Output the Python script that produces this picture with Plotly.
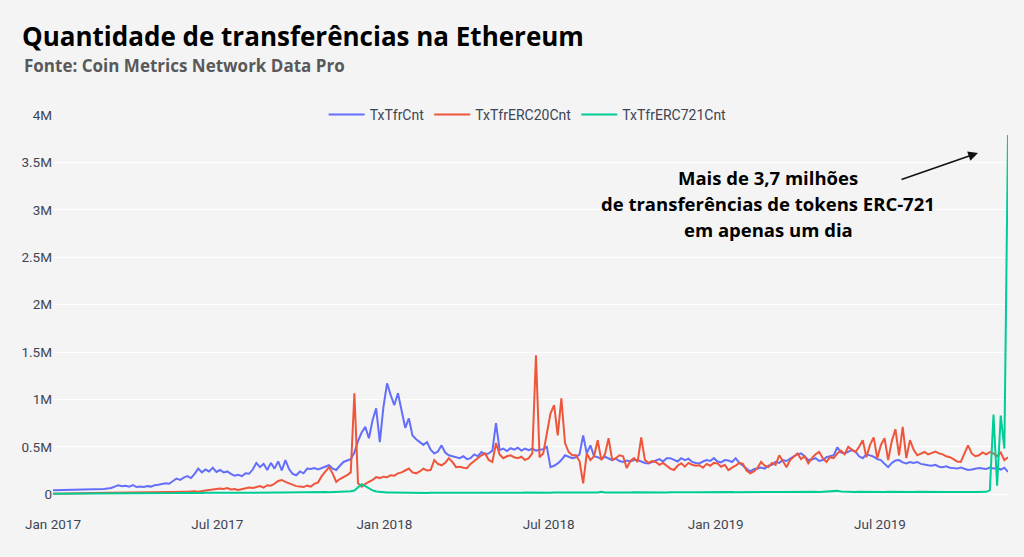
import pandas as pd
import plotly.graph_objects as go

# ---------------- data (values in thousands, one sample every 4 days from 2017-01-01) ----------------
start_date = "2017-01-01"
step = "4D"

tx_tfr_cnt_k = [
    42, 43, 44, 45, 44, 46, 45, 47, 46, 48,
    47, 50, 49, 53, 55, 60, 65, 80, 95, 85,
    90, 80, 95, 75, 80, 75, 85, 80, 95, 100,
    105, 115, 110, 140, 165, 150, 175, 190, 170, 215,
    270, 230, 260, 240, 280, 235, 255, 230, 240, 215,
    195, 205, 190, 220, 215, 260, 330, 285, 320, 255,
    330, 270, 345, 250, 360, 265, 215, 200, 240, 220,
    270, 265, 275, 260, 275, 285, 305, 270, 255, 300,
    340, 355, 370, 440, 560, 650, 710, 590, 780, 905,
    550, 920, 1170, 1045, 940, 1065, 885, 700, 800, 620,
    580, 550, 520, 550, 470, 430, 450, 515, 440, 410,
    400, 385, 380, 400, 370, 380, 420, 400, 445, 420,
    430, 460, 750, 465, 480, 455, 485, 470, 490, 460,
    480, 465, 480, 460, 470, 475, 500, 285, 300, 325,
    360, 410, 395, 380, 390, 420, 620, 430, 515, 400,
    390, 370, 395, 380, 360, 375, 350, 340, 355, 345,
    360, 360, 345, 330, 325, 340, 355, 370, 345, 380,
    380, 360, 345, 380, 360, 375, 340, 330, 325, 345,
    360, 350, 380, 345, 335, 360, 355, 340, 380, 330,
    300, 260, 240, 265, 270, 280, 270, 300, 310, 340,
    330, 360, 350, 380, 400, 420, 430, 400, 360, 365,
    380, 350, 360, 390, 400, 410, 495, 440, 430, 445,
    465, 450, 400, 380, 420, 410, 395, 370, 360, 320,
    285, 330, 355, 360, 335, 325, 340, 330, 340, 320,
    310, 305, 300, 310, 290, 285, 295, 280, 275, 270,
    280, 265, 255, 260, 270, 275, 270, 265, 280, 270,
    275, 260, 280, 235,
]

tx_tfr_erc20_cnt_k = [
    5, 6, 6, 7, 7, 8, 8, 9, 9, 10,
    10, 11, 12, 12, 13, 14, 14, 15, 16, 16,
    18, 17, 19, 18, 20, 22, 18, 20, 19, 22,
    21, 23, 24, 22, 25, 24, 26, 25, 28, 30,
    25, 35, 40, 45, 50, 55, 60, 55, 65, 50,
    55, 45, 55, 60, 70, 65, 75, 85, 70, 95,
    90, 110, 140, 150, 130, 115, 100, 85, 80, 75,
    90, 80, 110, 125, 190, 240, 285, 220, 130, 160,
    180, 200, 230, 1065, 115, 80, 110, 130, 150, 180,
    170, 185, 180, 200, 195, 220, 230, 250, 270, 230,
    220, 240, 270, 250, 255, 360, 320, 305, 330, 380,
    340, 285, 290, 280, 275, 320, 350, 380, 410, 430,
    360, 340, 540, 420, 380, 400, 410, 390, 380, 395,
    360, 380, 430, 1465, 390, 430, 640, 850, 940, 620,
    1010, 540, 445, 410, 410, 350, 115, 430, 360, 400,
    570, 360, 420, 590, 360, 380, 410, 400, 275, 350,
    380, 340, 600, 360, 330, 350, 340, 310, 330, 300,
    270, 255, 300, 325, 290, 330, 310, 300, 305, 280,
    320, 300, 330, 325, 290, 310, 255, 280, 300, 330,
    320, 250, 220, 240, 275, 340, 300, 285, 330, 310,
    410, 350, 285, 360, 390, 430, 370, 400, 325, 380,
    420, 445, 380, 340, 390, 380, 430, 460, 420, 500,
    470, 445, 500, 570, 390, 520, 600, 380, 520, 590,
    360, 560, 685, 410, 710, 380, 570, 470, 410, 430,
    445, 420, 435, 450, 430, 420, 400, 390, 370, 345,
    340, 420, 515, 430, 400, 410, 440, 420, 445, 430,
    400, 440, 360, 390,
]

tx_tfr_erc721_cnt_k = [
    5, 5, 6, 6, 5, 6, 7, 6, 7, 7,
    8, 7, 8, 8, 9, 8, 9, 9, 10, 9,
    10, 9, 10, 10, 11, 10, 11, 10, 11, 12,
    11, 12, 11, 12, 12, 13, 12, 13, 12, 13,
    13, 12, 14, 13, 14, 13, 14, 15, 14, 15,
    14, 15, 16, 15, 16, 15, 16, 17, 16, 17,
    16, 17, 18, 17, 18, 19, 18, 17, 19, 18,
    20, 19, 20, 21, 20, 22, 21, 22, 23, 22,
    24, 26, 30, 38, 70, 105, 85, 60, 40, 28,
    22, 20, 18, 17, 16, 15, 15, 14, 15, 14,
    14, 15, 14, 13, 14, 13, 14, 15, 14, 13,
    14, 15, 14, 15, 14, 16, 15, 14, 15, 16,
    15, 16, 15, 16, 17, 16, 15, 16, 15, 16,
    17, 16, 15, 16, 15, 16, 17, 16, 17, 16,
    17, 18, 17, 18, 19, 18, 17, 18, 19, 18,
    17, 25, 18, 19, 18, 19, 18, 19, 20, 19,
    20, 19, 18, 19, 20, 21, 20, 19, 20, 19,
    21, 20, 21, 20, 21, 22, 21, 20, 21, 22,
    21, 22, 21, 22, 21, 22, 23, 22, 21, 22,
    23, 22, 21, 22, 23, 22, 23, 22, 23, 24,
    23, 24, 23, 24, 25, 24, 23, 24, 25, 24,
    25, 24, 25, 26, 25, 26, 35, 28, 25, 24,
    25, 24, 25, 24, 25, 26, 25, 24, 25, 24,
    25, 24, 23, 24, 25, 24, 23, 24, 25, 24,
    23, 24, 23, 24, 25, 24, 23, 24, 25, 24,
    23, 24, 25, 24, 23, 24, 25, 25, 40, 840,
    90, 830, 480, 3790,
]

series_names = ["TxTfrCnt", "TxTfrERC20Cnt", "TxTfrERC721Cnt"]
series_colors = ["#636efa", "#ef553b", "#00cc96"]

y_tick_vals = [0, 500000, 1000000, 1500000, 2000000, 2500000, 3000000, 3500000, 4000000]
y_tick_text = ["0", "0.5M", "1M", "1.5M", "2M", "2.5M", "3M", "3.5M", "4M"]

title_text = "Quantidade de transferências na Ethereum"
subtitle_text = "Fonte: Coin Metrics Network Data Pro"
note_lines = ["Mais de 3,7 milhões", "de transferências de tokens ERC-721", "em apenas um dia"]

# ---------------- figure ----------------
fig = go.Figure()
for name, color, vals in zip(series_names, series_colors,
                             [tx_tfr_cnt_k, tx_tfr_erc20_cnt_k, tx_tfr_erc721_cnt_k]):
    dates = pd.date_range(start=start_date, periods=len(vals), freq=step)
    fig.add_trace(go.Scatter(
        x=dates, y=[v * 1000 for v in vals], mode="lines", name=name,
        line=dict(color=color, width=2),
    ))

BG = "#f4f4f4"
tick_font = dict(family="Roboto, Arial, sans-serif", size=13.5, color="#3d4554")

fig.update_layout(
    width=1024, height=557,
    margin=dict(l=53, r=16, t=115, b=52),
    paper_bgcolor=BG, plot_bgcolor=BG,
    showlegend=True,
    legend=dict(orientation="h", x=0.497, xanchor="center", y=1.0, yanchor="middle",
                bgcolor="rgba(0,0,0,0)", itemwidth=36,
                font=dict(family="Roboto, Arial, sans-serif", size=14, color="#3d4554")),
    title=dict(text="<b>" + title_text + "</b>", xref="container", yref="container",
               x=22 / 1024, xanchor="left", y=1 - 37 / 557, yanchor="middle",
               font=dict(family="Open Sans, sans-serif", size=26, color="#000000")),
    xaxis=dict(showgrid=False, zeroline=False, showline=False,
               tick0="2017-01-01", dtick="M6", tickformat="%b %Y",
               tickfont=tick_font, ticks="", ticklabelstandoff=9),
    yaxis=dict(range=[-114000, 4000000], showgrid=True, gridcolor="#ffffff", gridwidth=1,
               zeroline=False, showline=False, tickvals=y_tick_vals, ticktext=y_tick_text,
               tickfont=tick_font, ticks=""),
)

annotations = [
    dict(text="<b>" + subtitle_text + "</b>", xref="paper", yref="paper",
         x=(22 - 53) / 955, xanchor="left", y=(505 - 65) / 390, yanchor="middle",
         showarrow=False, font=dict(family="Open Sans, sans-serif", size=17, color="#595959")),
]
for k, line in enumerate(note_lines):
    annotations.append(dict(
        text="<b>" + line + "</b>", xref="paper", yref="paper",
        x=(768 - 53) / 955, xanchor="center", y=(505 - (177 + 26 * k)) / 390, yanchor="middle",
        showarrow=False, font=dict(family="Open Sans, sans-serif", size=18.5, color="#000000"),
    ))
annotations.append(dict(
    text="", xref="paper", yref="paper", x=(978 - 53) / 955, y=(505 - 153) / 390,
    showarrow=True, ax=-78, ay=27, arrowhead=2, arrowsize=1.3, arrowwidth=1.5,
    arrowcolor="#111111",
))
fig.update_layout(annotations=annotations)

fig.write_html("out.html", config={"displayModeBar": False},
               post_script="document.body.style.margin='0';document.body.style.overflow='hidden';")
